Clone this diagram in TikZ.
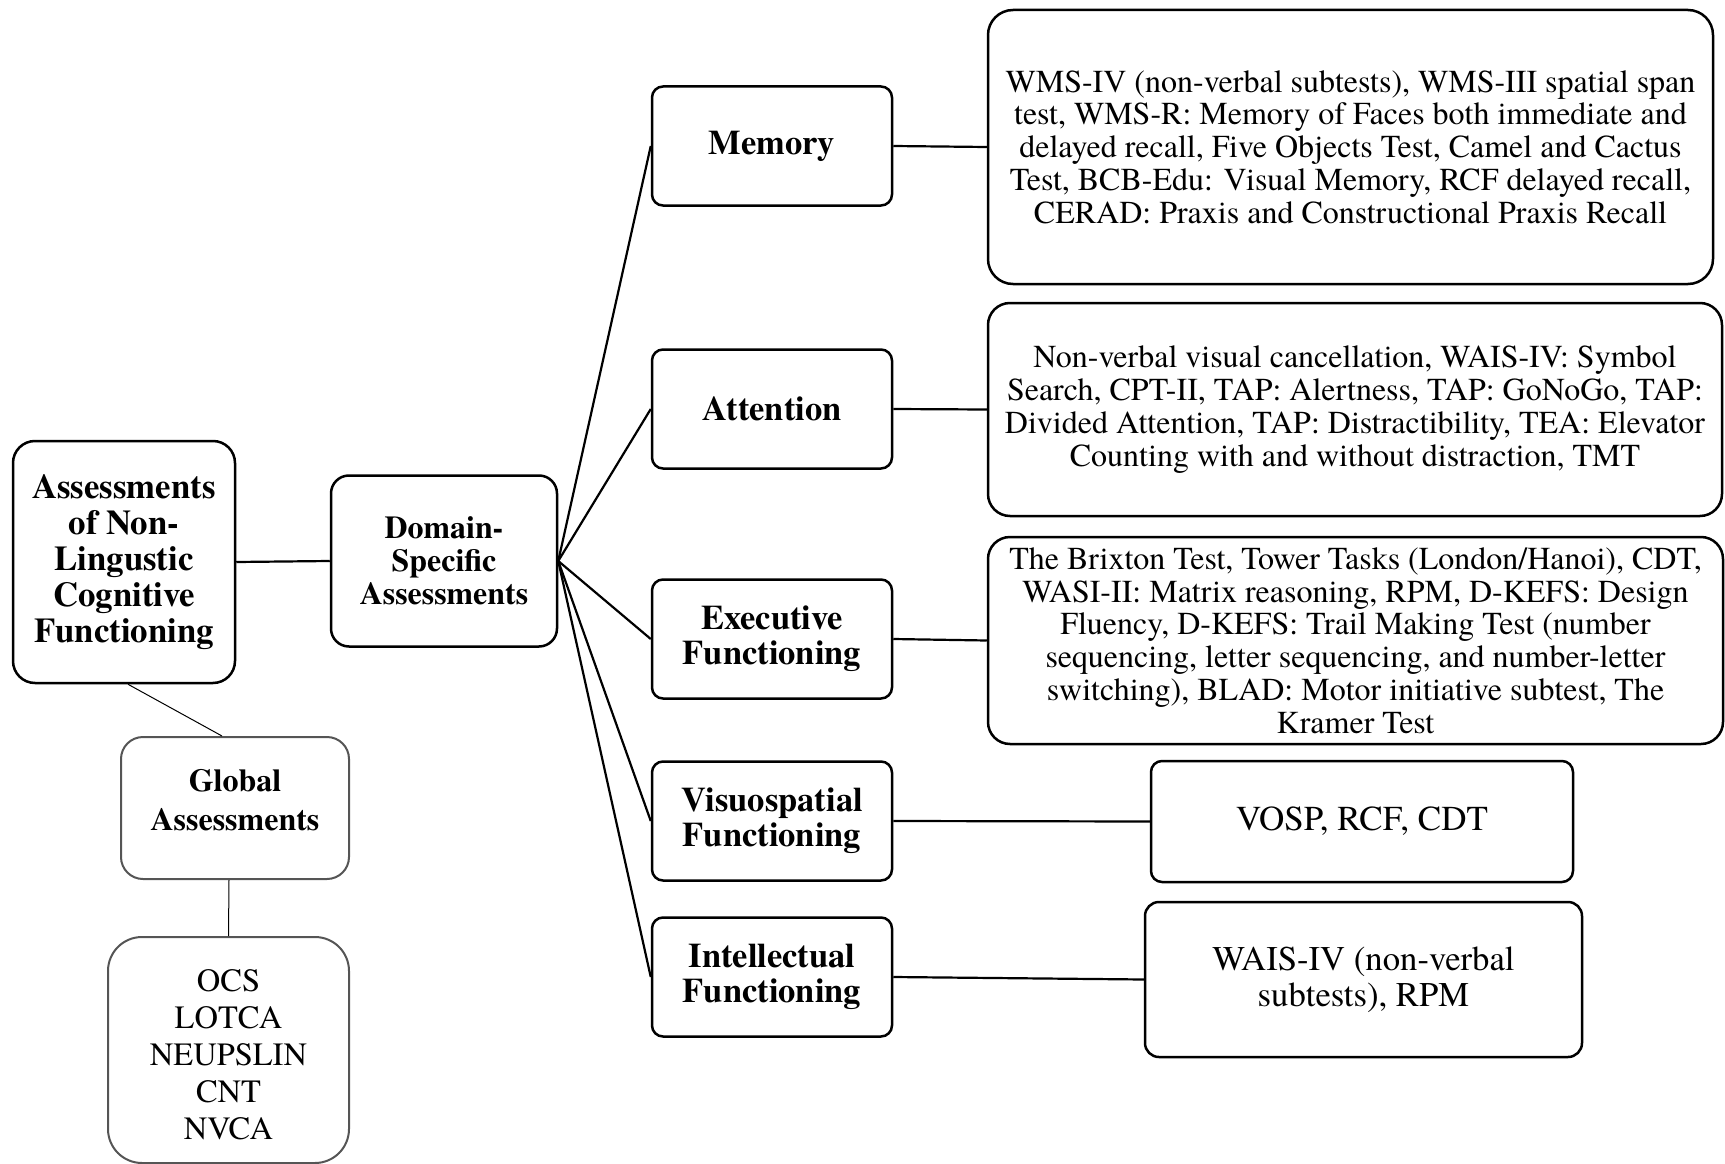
\documentclass[tikz,border=0pt]{standalone}
\usepackage{fontspec}
\setmainfont{texgyretermes-regular.otf}[BoldFont=texgyretermes-bold.otf]
\usetikzlibrary{calc}
\definecolor{greyline}{HTML}{555555}
\begin{document}
\begin{tikzpicture}[x=1pt,y=-1pt,
  box/.style={draw, line width=2.5pt, rounded corners=11pt, align=center, inner sep=0pt},
  gbox/.style={draw=greyline, line width=2pt, rounded corners=22pt, align=center, inner sep=0pt},
  rootf/.style={font=\bfseries\fontsize{34.8}{36}\selectfont},
  domf/.style={font=\bfseries\fontsize{31.9}{33}\selectfont},
  globf/.style={font=\bfseries\fontsize{32}{38.5}\selectfont},
  midf/.style={font=\bfseries\fontsize{34.5}{35}\selectfont},
  detf/.style={font=\fontsize{32}{32.8}\selectfont},
  visf/.style={font=\fontsize{35}{36}\selectfont},
  intf/.style={font=\fontsize{34.7}{36}\selectfont},
  conn/.style={line width=2.2pt},
  thinconn/.style={line width=1pt}]
\useasboundingbox (0,0) rectangle (1725,1164);

% left part
\node[box, rootf, minimum width=222pt, minimum height=242pt, rounded corners=22pt] (root) at (124,562) {Assessments\\of Non-\\Lingustic\\Cognitive\\Functioning};
\node[box, domf, minimum width=226pt, minimum height=171pt, rounded corners=18pt] (dom) at (444,561) {Domain-\\Specific\\Assessments};
\node[gbox, globf, minimum width=228pt, minimum height=142pt] (glob) at (235,808) {\raisebox{4.5pt}[\height][\depth]{\begin{tabular}{@{}c@{}}Global\\Assessments\end{tabular}}};
\node[gbox, font=\fontsize{32.5}{37}\selectfont, minimum width=241pt, minimum height=226pt, rounded corners=34pt] (ocs) at (228.5,1050) {\raisebox{-8pt}[\height][\depth]{\begin{tabular}{@{}c@{}}OCS\\LOTCA\\NEUPSLIN\\CNT\\NVCA\end{tabular}}};

% middle column
\node[box, midf, minimum width=240pt, minimum height=119pt] (mem) at (772,146) {Memory};
\node[box, midf, minimum width=240pt, minimum height=119pt] (att) at (772,409) {Attention};
\node[box, midf, minimum width=240pt, minimum height=119pt] (exe) at (772,639) {Executive\\Functioning};
\node[box, midf, minimum width=240pt, minimum height=119pt] (vis) at (772,821) {Visuospatial\\Functioning};
\node[box, midf, minimum width=240pt, minimum height=119pt] (int) at (772,977) {Intellectual\\Functioning};

% right column
\node[box, detf, minimum width=725pt, minimum height=274pt, rounded corners=25pt] (memd) at (1350.5,147) {WMS-IV (non-verbal subtests), WMS-III spatial span\\test, WMS-R: Memory of Faces both immediate and\\delayed recall, Five Objects Test, Camel and Cactus\\Test, BCB-Edu: Visual Memory, RCF delayed recall,\\CERAD: Praxis and Constructional Praxis Recall};
\node[box, detf, minimum width=734pt, minimum height=213pt, rounded corners=22pt] (attd) at (1355,409.5) {Non-verbal visual cancellation, WAIS-IV: Symbol\\Search, CPT-II, TAP: Alertness, TAP: GoNoGo, TAP:\\Divided Attention, TAP: Distractibility, TEA: Elevator\\Counting with and without distraction, TMT};
\node[box, detf, minimum width=735pt, minimum height=207pt, rounded corners=22pt] (exed) at (1355.5,640.5) {The Brixton Test, Tower Tasks (London/Hanoi), CDT,\\WASI-II: Matrix reasoning, RPM, D-KEFS: Design\\Fluency, D-KEFS: Trail Making Test (number\\sequencing, letter sequencing, and number-letter\\switching), BLAD: Motor initiative subtest, The\\Kramer Test};
\node[box, visf, minimum width=422pt, minimum height=121pt] (visd) at (1362,821.5) {VOSP, RCF, CDT};
\node[box, intf, minimum width=437pt, minimum height=155pt, rounded corners=14pt] (intd) at (1363.5,979.5) {WAIS-IV (non-verbal\\subtests), RPM};

% connectors
\draw[conn] (root.east) -- (dom.west);
\draw[thinconn] ($(root.south)+(4,0)$) -- ($(glob.north)+(-13,0)$);
\draw[thinconn] ($(glob.south)+(-6,0)$) -- (ocs.north);
\foreach \m in {mem,att,exe,vis,int} \draw[conn] (dom.east) -- (\m.west);
\draw[conn] (mem.east) -- (memd.west);
\draw[conn] (att.east) -- (attd.west);
\draw[conn] (exe.east) -- (exed.west);
\draw[conn] (vis.east) -- (visd.west);
\draw[conn] (int.east) -- (intd.west);
\end{tikzpicture}
\end{document}
